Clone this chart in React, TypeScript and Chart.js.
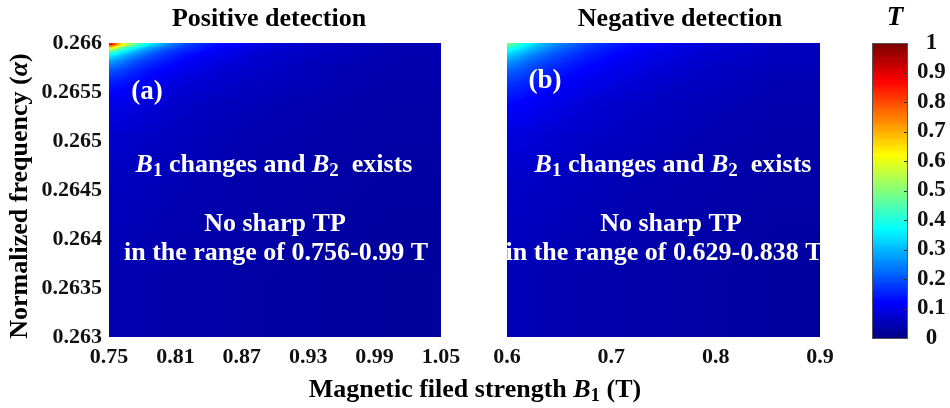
import React, { useEffect, useRef } from "react";
import { Chart, registerables } from "chart.js";

Chart.register(...registerables);

// ---------------- data ----------------
const xTicksA = [0.75, 0.81, 0.87, 0.93, 0.99, 1.05];
const xTicksB = [0.6, 0.7, 0.8, 0.9];
const yTicks = [0.263, 0.2635, 0.264, 0.2645, 0.265, 0.2655, 0.266];
const cbTicks = [0, 0.1, 0.2, 0.3, 0.4, 0.5, 0.6, 0.7, 0.8, 0.9, 1];

// cell edges (B1 in T) for panel (a) and (b)
const colEdgesA = [0.75, 0.7545, 0.759, 0.7645, 0.772, 0.781, 0.7935, 0.81, 0.831, 0.863, 0.904, 0.958, 1.05];
const colEdgesB = [0.6, 0.6048, 0.6096, 0.6153, 0.623, 0.6326, 0.646, 0.6633, 0.6863, 0.7198, 0.7629, 0.8204, 0.9];
// row edges (alpha), from top to bottom
const rowEdges = [0.266, 0.26597, 0.26594, 0.2659, 0.26585, 0.26578, 0.26567, 0.26551, 0.26527, 0.26488, 0.26427, 0.263];

// transmission T per cell: rows (top->bottom) x cols (left->right)
const valuesA = [
  [0.86, 0.75, 0.64, 0.54, 0.45, 0.36, 0.27, 0.19, 0.138, 0.099, 0.072, 0.05],
  [0.66, 0.58, 0.5, 0.43, 0.36, 0.29, 0.228, 0.172, 0.125, 0.093, 0.068, 0.049],
  [0.48, 0.44, 0.39, 0.345, 0.298, 0.248, 0.192, 0.155, 0.117, 0.085, 0.066, 0.049],
  [0.365, 0.34, 0.315, 0.279, 0.246, 0.204, 0.17, 0.135, 0.107, 0.08, 0.063, 0.047],
  [0.282, 0.266, 0.25, 0.222, 0.196, 0.173, 0.146, 0.12, 0.097, 0.075, 0.06, 0.046],
  [0.206, 0.198, 0.19, 0.175, 0.158, 0.138, 0.122, 0.104, 0.084, 0.071, 0.055, 0.044],
  [0.148, 0.144, 0.14, 0.132, 0.123, 0.111, 0.096, 0.086, 0.075, 0.061, 0.055, 0.042],
  [0.104, 0.103, 0.101, 0.097, 0.093, 0.086, 0.079, 0.071, 0.062, 0.055, 0.048, 0.039],
  [0.078, 0.077, 0.077, 0.074, 0.072, 0.069, 0.065, 0.06, 0.054, 0.048, 0.043, 0.036],
  [0.062, 0.062, 0.062, 0.06, 0.059, 0.057, 0.054, 0.051, 0.048, 0.043, 0.039, 0.033],
  [0.05, 0.05, 0.05, 0.048, 0.047, 0.046, 0.043, 0.041, 0.039, 0.035, 0.032, 0.027],
];

const valuesB = [
  [0.49, 0.44, 0.413, 0.37, 0.33, 0.286, 0.24, 0.192, 0.152, 0.116, 0.087, 0.063],
  [0.42, 0.395, 0.371, 0.337, 0.303, 0.262, 0.223, 0.182, 0.143, 0.111, 0.084, 0.061],
  [0.371, 0.352, 0.332, 0.306, 0.276, 0.245, 0.203, 0.17, 0.136, 0.105, 0.081, 0.06],
  [0.323, 0.309, 0.294, 0.27, 0.246, 0.214, 0.187, 0.156, 0.128, 0.099, 0.078, 0.059],
  [0.275, 0.264, 0.252, 0.232, 0.211, 0.191, 0.167, 0.142, 0.117, 0.093, 0.073, 0.057],
  [0.222, 0.215, 0.208, 0.195, 0.18, 0.161, 0.145, 0.126, 0.104, 0.086, 0.068, 0.055],
  [0.173, 0.169, 0.165, 0.157, 0.147, 0.134, 0.119, 0.106, 0.092, 0.075, 0.063, 0.05],
  [0.129, 0.127, 0.125, 0.12, 0.114, 0.107, 0.098, 0.086, 0.076, 0.066, 0.056, 0.046],
  [0.095, 0.094, 0.093, 0.09, 0.087, 0.083, 0.078, 0.072, 0.066, 0.058, 0.05, 0.042],
  [0.072, 0.072, 0.071, 0.07, 0.067, 0.065, 0.062, 0.058, 0.054, 0.049, 0.044, 0.038],
  [0.055, 0.055, 0.055, 0.053, 0.052, 0.05, 0.048, 0.046, 0.044, 0.04, 0.036, 0.03],
];

// ---------------- helpers ----------------
const FONT = '"Liberation Serif", "Times New Roman", Times, serif';
const W = 950;
const H = 408;

function jetRGB(v: number): [number, number, number] {
  const c = (x: number) => Math.max(0, Math.min(1, x));
  const r = c(1.5 - Math.abs(4 * v - 3));
  const g = c(1.5 - Math.abs(4 * v - 2));
  const b = c(1.5 - Math.abs(4 * v - 1));
  return [Math.round(r * 255), Math.round(g * 255), Math.round(b * 255)];
}
function jet(v: number): string {
  const [r, g, b] = jetRGB(v);
  return `rgb(${r},${g},${b})`;
}

type Seg = { t: string; it?: boolean; sub?: boolean };

function drawRich(ctx: CanvasRenderingContext2D, segs: Seg[], x: number, y: number, size: number, color: string) {
  const fontFor = (s: Seg) => `${s.it ? "italic " : ""}bold ${s.sub ? Math.round(size * 0.72) : size}px ${FONT}`;
  let total = 0;
  const widths = segs.map((s) => {
    ctx.font = fontFor(s);
    const w = ctx.measureText(s.t).width;
    total += w;
    return w;
  });
  let cx = x - total / 2;
  ctx.fillStyle = color;
  ctx.textBaseline = "middle";
  ctx.textAlign = "left";
  segs.forEach((s, i) => {
    ctx.font = fontFor(s);
    ctx.fillText(s.t, cx, s.sub ? y + size * 0.22 : y);
    cx += widths[i];
  });
}

// locate v among monotonic node positions -> [i0, i1, t]
function locate(arr: number[], v: number): [number, number, number] {
  const n = arr.length;
  const inc = arr[n - 1] > arr[0];
  if (inc ? v <= arr[0] : v >= arr[0]) return [0, 0, 0];
  if (inc ? v >= arr[n - 1] : v <= arr[n - 1]) return [n - 1, n - 1, 0];
  for (let k = 0; k < n - 1; k++) {
    const a = arr[k];
    const b = arr[k + 1];
    if ((v - a) * (v - b) <= 0) return [k, k + 1, (v - a) / (b - a)];
  }
  return [n - 1, n - 1, 0];
}

// heat map: cells placed by the chart's scales, shaded smoothly between cell centres
function heatPlugin(cols: number[], rows: number[], vals: number[][]) {
  return {
    id: "heat",
    beforeDatasetsDraw(chart: any) {
      const ctx = chart.ctx as CanvasRenderingContext2D;
      const xs = chart.scales.x;
      const ys = chart.scales.y;
      const { left, top, right, bottom } = chart.chartArea;
      const w = Math.round(right - left);
      const h = Math.round(bottom - top);
      const cx = cols.slice(0, -1).map((c, j) => (c + cols[j + 1]) / 2);
      const cy = rows.slice(0, -1).map((r, i) => (r + rows[i + 1]) / 2);
      const off = document.createElement("canvas");
      off.width = w;
      off.height = h;
      const octx = off.getContext("2d") as CanvasRenderingContext2D;
      const img = octx.createImageData(w, h);
      const xl = [] as [number, number, number][];
      for (let px = 0; px < w; px++) xl.push(locate(cx, xs.getValueForPixel(left + px + 0.5)));
      for (let py = 0; py < h; py++) {
        const [i0, i1, ty] = locate(cy, ys.getValueForPixel(top + py + 0.5));
        for (let px = 0; px < w; px++) {
          const [j0, j1, tx] = xl[px];
          const a = vals[i0][j0] * (1 - tx) + vals[i0][j1] * tx;
          const b = vals[i1][j0] * (1 - tx) + vals[i1][j1] * tx;
          const v = a * (1 - ty) + b * ty;
          const [r, g, bl] = jetRGB(v);
          const k = (py * w + px) * 4;
          img.data[k] = r;
          img.data[k + 1] = g;
          img.data[k + 2] = bl;
          img.data[k + 3] = 255;
        }
      }
      octx.putImageData(img, 0, 0);
      ctx.save();
      ctx.drawImage(off, left, top, right - left, bottom - top);
      ctx.restore();
    },
  };
}

const tickFont = { family: FONT, size: 22, weight: "bold" as const };

function makeX(min: number, max: number, ticks: number[], fmt: (v: number) => string) {
  return {
    type: "linear",
    position: "bottom",
    min,
    max,
    grid: { display: false, drawTicks: false },
    border: { display: false },
    afterBuildTicks: (s: any) => {
      s.ticks = ticks.map((v) => ({ value: v }));
    },
    afterFit: (s: any) => {
      s.height = 71;
    },
    ticks: {
      autoSkip: false,
      maxRotation: 0,
      padding: 7,
      color: "#111",
      font: tickFont,
      callback: (v: any) => fmt(Number(v)),
    },
  };
}

function baseOptions(padding: any, scales: any) {
  return {
    animation: false,
    responsive: false,
    maintainAspectRatio: false,
    events: [],
    layout: { padding },
    plugins: { legend: { display: false }, tooltip: { enabled: false }, title: { display: false } },
    scales,
  };
}

const TXT = 26;

const textA = {
  id: "textA",
  afterDraw(chart: any) {
    const ctx = chart.ctx as CanvasRenderingContext2D;
    ctx.save();
    drawRich(ctx, [{ t: "Positive detection" }], 269, 19, 26, "#000");
    // y axis title
    ctx.save();
    ctx.translate(20, 196);
    ctx.rotate(-Math.PI / 2);
    drawRich(ctx, [{ t: "Normalized frequency (" }, { t: "α", it: true }, { t: ")" }], 0, 0, 26, "#000");
    ctx.restore();
    // x axis title
    drawRich(ctx, [{ t: "Magnetic filed strength " }, { t: "B", it: true }, { t: "1", sub: true }, { t: " (T)" }], 475, 390, 26, "#000");
    // inner labels
    drawRich(ctx, [{ t: "(a)" }], 147, 92, 27, "#fff");
    drawRich(ctx, [{ t: "B", it: true }, { t: "1", sub: true }, { t: " changes and " }, { t: "B", it: true }, { t: "2", sub: true }, { t: "  exists" }], 274, 165, TXT, "#fff");
    drawRich(ctx, [{ t: "No sharp TP" }], 275, 224, TXT, "#fff");
    drawRich(ctx, [{ t: "in the range of 0.756-0.99 T" }], 276, 253, TXT, "#fff");
    ctx.restore();
  },
};

const textB = {
  id: "textB",
  afterDraw(chart: any) {
    const ctx = chart.ctx as CanvasRenderingContext2D;
    ctx.save();
    drawRich(ctx, [{ t: "Negative detection" }], 680, 19, 26, "#000");
    drawRich(ctx, [{ t: "(b)" }], 545, 81, 27, "#fff");
    drawRich(ctx, [{ t: "B", it: true }, { t: "1", sub: true }, { t: " changes and " }, { t: "B", it: true }, { t: "2", sub: true }, { t: "  exists" }], 673, 165, TXT, "#fff");
    drawRich(ctx, [{ t: "No sharp TP" }], 671, 224, TXT, "#fff");
    drawRich(ctx, [{ t: "in the range of 0.629-0.838 T" }], 664, 253, TXT, "#fff");
    ctx.restore();
  },
};

const colorbarPlugin = {
  id: "colorbar",
  beforeDatasetsDraw(chart: any) {
    const ctx = chart.ctx as CanvasRenderingContext2D;
    const ys = chart.scales.y;
    const { left, right } = chart.chartArea;
    ctx.save();
    const n = 256;
    for (let k = 0; k < n; k++) {
      const v0 = k / n;
      const v1 = (k + 1) / n;
      const p0 = ys.getPixelForValue(v0);
      const p1 = ys.getPixelForValue(v1);
      ctx.fillStyle = jet((v0 + v1) / 2);
      ctx.fillRect(left, Math.floor(p1), right - left, Math.ceil(p0) - Math.floor(p1) + 1);
    }
    // tick marks (inward, right edge)
    ctx.strokeStyle = "#333";
    ctx.lineWidth = 1;
    cbTicks.forEach((v) => {
      const p = Math.round(ys.getPixelForValue(v)) + 0.5;
      ctx.beginPath();
      ctx.moveTo(right - 4, p);
      ctx.lineTo(right, p);
      ctx.stroke();
    });
    ctx.strokeStyle = "#555";
    const top = ys.getPixelForValue(1);
    const bot = ys.getPixelForValue(0);
    ctx.strokeRect(left + 0.5, Math.round(top) + 0.5, right - left - 1, Math.round(bot - top));
    drawRich(ctx, [{ t: "T", it: true }], 895, 18, 27, "#000");
    ctx.restore();
  },
};

// ---------------- component ----------------
export default function App() {
  const refA = useRef<HTMLCanvasElement>(null);
  const refB = useRef<HTMLCanvasElement>(null);
  const refC = useRef<HTMLCanvasElement>(null);

  useEffect(() => {
    const fmtA = (v: number) => v.toFixed(2);
    const fmtB = (v: number) => v.toFixed(1);
    const chartA = new Chart(refA.current as HTMLCanvasElement, {
      type: "scatter",
      data: { datasets: [] },
      options: baseOptions(
        { left: 0, right: W - 441, top: 43, bottom: 0 },
        {
          x: makeX(0.75, 1.05, xTicksA, fmtA),
          y: {
            type: "linear",
            position: "left",
            min: 0.263,
            max: 0.266,
            grid: { display: false, drawTicks: false },
            border: { display: false },
            afterBuildTicks: (s: any) => {
              s.ticks = yTicks.map((v) => ({ value: v }));
            },
            afterFit: (s: any) => {
              s.width = 109;
            },
            ticks: {
              autoSkip: false,
              padding: 7,
              color: "#111",
              font: tickFont,
              callback: (v: any) => String(Number(v)),
            },
          },
        }
      ) as any,
      plugins: [heatPlugin(colEdgesA, rowEdges, valuesA), textA],
    });

    const chartB = new Chart(refB.current as HTMLCanvasElement, {
      type: "scatter",
      data: { datasets: [] },
      options: baseOptions(
        { left: 507, right: W - 820, top: 43, bottom: 0 },
        {
          x: makeX(0.6, 0.9, xTicksB, fmtB),
          y: { type: "linear", min: 0.263, max: 0.266, display: false },
        }
      ) as any,
      plugins: [heatPlugin(colEdgesB, rowEdges, valuesB), textB],
    });

    const chartC = new Chart(refC.current as HTMLCanvasElement, {
      type: "scatter",
      data: { datasets: [] },
      options: baseOptions(
        { left: 872, right: 0, top: 43, bottom: H - 338 },
        {
          x: { type: "linear", min: 0, max: 1, display: false },
          y: {
            type: "linear",
            position: "right",
            min: 0,
            max: 1,
            grid: { display: false, drawTicks: false },
            border: { display: false },
            afterBuildTicks: (s: any) => {
              s.ticks = cbTicks.map((v) => ({ value: v }));
            },
            afterFit: (s: any) => {
              s.width = W - 908;
            },
            ticks: {
              autoSkip: false,
              padding: 9,
              crossAlign: "center",
              color: "#111",
              font: { family: FONT, size: 23, weight: "bold" },
              callback: (v: any) => {
                const n = Number(v);
                return n === 0 ? "0" : n === 1 ? "1" : n.toFixed(1);
              },
            },
          },
        }
      ) as any,
      plugins: [colorbarPlugin],
    });

    return () => {
      chartA.destroy();
      chartB.destroy();
      chartC.destroy();
    };
  }, []);

  const cs: React.CSSProperties = { position: "absolute", left: 0, top: 0, width: W, height: H };
  return (
    <div style={{ position: "absolute", left: 0, top: 0, width: W, height: H, background: "#fff" }}>
      <canvas ref={refA} width={W} height={H} style={cs} />
      <canvas ref={refB} width={W} height={H} style={cs} />
      <canvas ref={refC} width={W} height={H} style={cs} />
    </div>
  );
}
